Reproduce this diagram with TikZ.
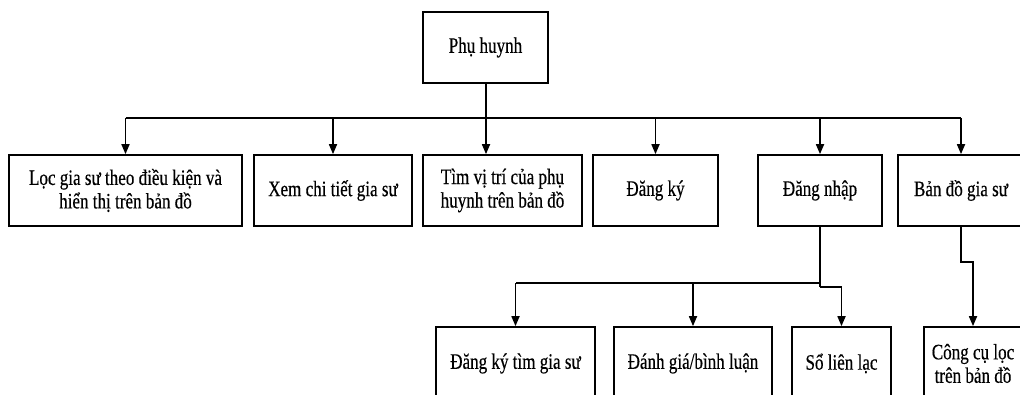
\documentclass[tikz,border=0pt]{standalone}
\usepackage{fontspec}
\setmainfont[FakeStretch=0.775,FakeBold=0.4]{Liberation Serif}
\usetikzlibrary{arrows.meta}
\begin{document}
\begin{tikzpicture}[x=1pt,y=-1pt,
  box/.style={draw, line width=1.7pt, inner sep=0pt, align=center,
    font=\fontsize{22}{23.5}\selectfont, minimum height=71pt},
  lowbox/.style={box, minimum height=73pt},
  link/.style={line width=1.7pt},
  arr/.style={link, -{Triangle[length=10pt,width=8pt]}}]
\useasboundingbox (0,0) rectangle (1020,394);
\clip (0,0) rectangle (1020,394);
\fill[white] (0,0) rectangle (1020,394);
% root
\node[box, minimum width=125pt] (root) at (485.5,47.5) {Phụ huynh};
% level 1
\node[box, minimum width=233pt] (a1) at (125.5,190.5) {Lọc gia sư theo điều kiện và\\hiển thị trên bản đồ};
\node[box, minimum width=158pt] (a2) at (333,190.5) {Xem chi tiết gia sư};
\node[box, minimum width=159pt] (a3) at (502.5,190.5) {Tìm vị trí của phụ\\huynh trên bản đồ};
\node[box, minimum width=125pt] (a4) at (655.5,190.5) {Đăng ký};
\node[box, minimum width=124pt] (a5) at (820,190.5) {Đăng nhập};
\node[box, minimum width=126pt] (a6) at (961,190.5) {Bản đồ gia sư};
% level 2
\node[lowbox, minimum width=159pt] (b1) at (515.5,363.5) {Đăng ký tìm gia sư};
\node[lowbox, minimum width=158pt] (b2) at (693,363.5) {Đánh giá/bình luận};
\node[lowbox, minimum width=99pt] (b3) at (841.5,363.5) {Sổ liên lạc};
\node[lowbox, minimum width=98pt] (b4) at (973,363.5) {Công cụ lọc\\trên bản đồ};
% helper coordinates
\coordinate (bus) at (0,118);
\coordinate (bus2) at (0,283);
\coordinate (jog2) at (0,287);
\coordinate (jog3) at (0,262);
\coordinate (r3) at (486,0);
% root to level 1
\draw[arr] (root.south -| r3) -- (a3.north -| r3);
\draw[link] (a1.north |- bus) -- (a6.north |- bus);
\draw[arr] (a1.north |- bus) -- (a1.north);
\draw[arr] (a2.north |- bus) -- (a2.north);
\draw[arr] (a4.north |- bus) -- (a4.north);
\draw[arr] (a5.north |- bus) -- (a5.north);
\draw[arr] (a6.north |- bus) -- (a6.north);
% Đăng nhập to level 2
\draw[link] (a5.south) -- (a5.south |- jog2);
\draw[link] (a5.south |- bus2) -- (b1.north |- bus2);
\draw[arr] (b1.north |- bus2) -- (b1.north);
\draw[arr] (b2.north |- bus2) -- (b2.north);
\draw[arr] (a5.south |- jog2) -- (b3.north |- jog2) -- (b3.north);
% Bản đồ gia sư to Công cụ lọc
\draw[arr] (a6.south) -- (a6.south |- jog3) -- (b4.north |- jog3) -- (b4.north);
\end{tikzpicture}
\end{document}
